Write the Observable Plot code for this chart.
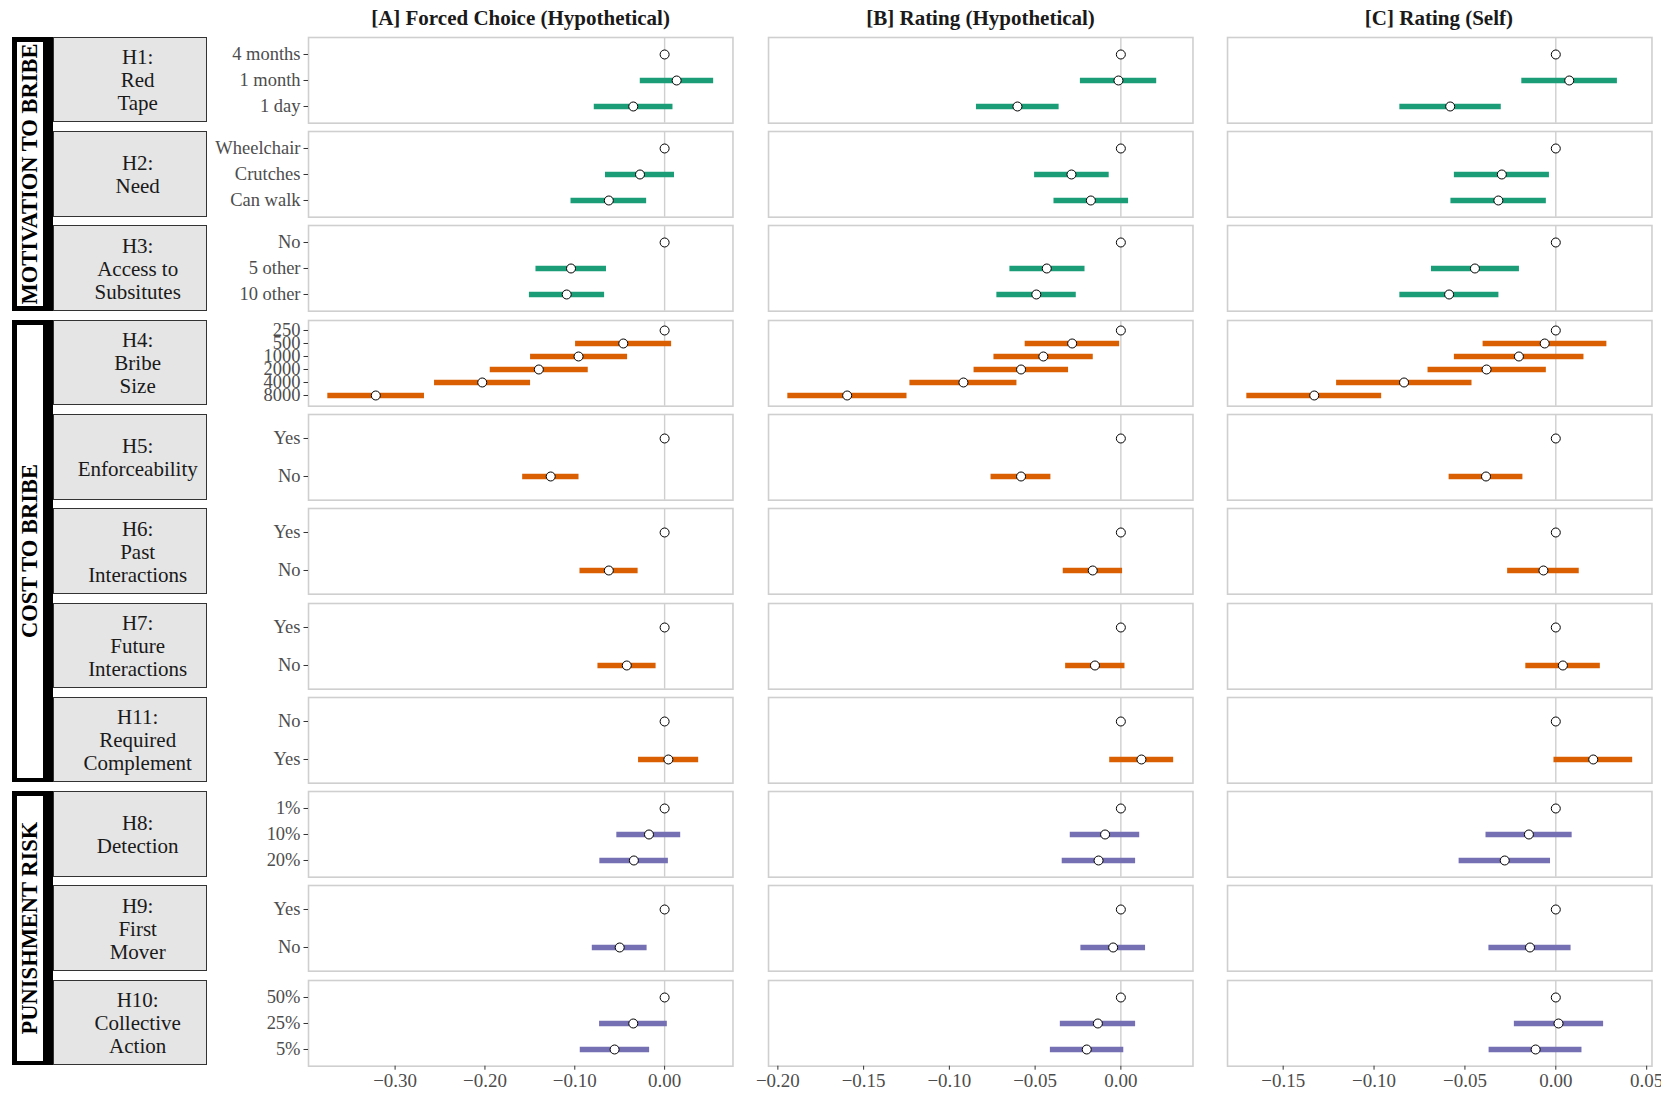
<!DOCTYPE html>
<html>
<head>
<meta charset="utf-8">
<script src="https://cdn.jsdelivr.net/npm/d3@7"></script>
<script src="https://cdn.jsdelivr.net/npm/@observablehq/plot@0.6"></script>
<style>
html, body { margin: 0; padding: 0; background: #fff; overflow: hidden; }
#root { position: relative; width: 1661px; height: 1093px; background: #fff;
  font-family: "Liberation Serif", "Times New Roman", serif; }
.title { position: absolute; font-weight: bold; font-size: 21px; line-height: 21px;
  color: #1a1a1a; text-align: center; white-space: nowrap; }
.hyp { position: absolute; background: #e5e5e5; border: 1.3px solid #333; box-sizing: border-box;
  display: flex; align-items: center; justify-content: center; text-align: center;
  font-size: 21px; line-height: 23px; color: #1a1a1a; white-space: pre; padding-left: 16px; padding-top: 2px; }
.grp { position: absolute; background: #000; }
.grp .inner { position: absolute; background: #fff; }
.grp .lab { position: absolute; left: 50%; top: 50%; transform: translate(-50%, -50%) rotate(-90deg);
  font-weight: bold; font-size: 22.5px; color: #000; white-space: nowrap; line-height: 1; }
svg.panel { position: absolute; }
</style>
</head>
<body>
<div id="root"></div>
<script>
// ---------------- DATA ----------------
const columnTitles = ["[A] Forced Choice (Hypothetical)", "[B] Rating (Hypothetical)", "[C] Rating (Self)"];

const hypLabels = ["H1:\nRed\nTape", "H2:\nNeed", "H3:\nAccess to\nSubsitutes", "H4:\nBribe\nSize",
  "H5:\nEnforceability", "H6:\nPast\nInteractions", "H7:\nFuture\nInteractions",
  "H11:\nRequired\nComplement", "H8:\nDetection", "H9:\nFirst\nMover", "H10:\nCollective\nAction"];

const rowLevels = [
  ["4 months", "1 month", "1 day"],
  ["Wheelchair", "Crutches", "Can walk"],
  ["No", "5 other", "10 other"],
  ["250", "500", "1000", "2000", "4000", "8000"],
  ["Yes", "No"],
  ["Yes", "No"],
  ["Yes", "No"],
  ["No", "Yes"],
  ["1%", "10%", "20%"],
  ["Yes", "No"],
  ["50%", "25%", "5%"]
];

const rowGroup = [0, 0, 0, 1, 1, 1, 1, 1, 2, 2, 2];
const groupNames = ["MOTIVATION TO BRIBE", "COST TO BRIBE", "PUNISHMENT RISK"];
const groupColors = ["#1B9E77", "#D95F02", "#7570B3"];

const xTicks = [
  [-0.3, -0.2, -0.1, 0],
  [-0.2, -0.15, -0.1, -0.05, 0],
  [-0.15, -0.1, -0.05, 0, 0.05]
];

// [A] Forced Choice (Hypothetical)
const estA = [
  [0, 0.0134, -0.0349], [0, -0.0274, -0.0621], [0, -0.1042, -0.109],
  [0, -0.046, -0.0958, -0.14, -0.203, -0.3215],
  [0, -0.1268], [0, -0.0621], [0, -0.0421], [0, 0.0042],
  [0, -0.0174, -0.0342], [0, -0.05], [0, -0.0349, -0.0557]
];
const loA = [
  [null, -0.0271, -0.0783], [null, -0.0658, -0.1042], [null, -0.1432, -0.1505],
  [null, -0.0991, -0.1492, -0.1941, -0.2561, -0.3749],
  [null, -0.158], [null, -0.0942], [null, -0.0742], [null, -0.029],
  [null, -0.0532, -0.0721], [null, -0.0805], [null, -0.0724, -0.0939]
];
const hiA = [
  [null, 0.0546, 0.0093], [null, 0.011, -0.02], [null, -0.0647, -0.0668],
  [null, 0.0078, -0.0412, -0.085, -0.1492, -0.2673],
  [null, -0.0953], [null, -0.0295], [null, -0.0095], [null, 0.0379],
  [null, 0.0179, 0.0042], [null, -0.0195], [null, 0.003, -0.0167]
];

// [B] Rating (Hypothetical)
const estB = [
  [0, -0.0014, -0.0603], [0, -0.0288, -0.0175], [0, -0.0432, -0.0493],
  [0, -0.0284, -0.0452, -0.0582, -0.0918, -0.1596],
  [0, -0.0582], [0, -0.0164], [0, -0.0151], [0, 0.012],
  [0, -0.0092, -0.013], [0, -0.0045], [0, -0.0134, -0.0199]
];
const loB = [
  [null, -0.0236, -0.0842], [null, -0.0503, -0.039], [null, -0.0647, -0.0723],
  [null, -0.0558, -0.074, -0.0856, -0.123, -0.1942],
  [null, -0.0757], [null, -0.0336], [null, -0.0322], [null, -0.0065],
  [null, -0.0295, -0.0342], [null, -0.0233], [null, -0.0353, -0.0411]
];
const hiB = [
  [null, 0.0209, -0.036], [null, -0.0068, 0.0045], [null, -0.0209, -0.026],
  [null, -0.0007, -0.0161, -0.0305, -0.0606, -0.1247],
  [null, -0.0408], [null, 0.001], [null, 0.0024], [null, 0.0308],
  [null, 0.011, 0.0086], [null, 0.0144], [null, 0.0086, 0.0017]
];

// [C] Rating (Self)
const estC = [
  [0, 0.0074, -0.0581], [0, -0.0297, -0.0316], [0, -0.0445, -0.0587],
  [0, -0.0061, -0.0203, -0.0381, -0.0835, -0.1329],
  [0, -0.0384], [0, -0.0068], [0, 0.0039], [0, 0.0206],
  [0, -0.0148, -0.0281], [0, -0.0142], [0, 0.0015, -0.0111]
];
const loC = [
  [null, -0.0187, -0.0858], [null, -0.0558, -0.0577], [null, -0.0684, -0.0858],
  [null, -0.04, -0.0558, -0.0703, -0.1206, -0.17],
  [null, -0.0587], [null, -0.0265], [null, -0.0165], [null, -0.001],
  [null, -0.0384, -0.0532], [null, -0.0368], [null, -0.0228, -0.0367]
];
const hiC = [
  [null, 0.0339, -0.03], [null, -0.0035, -0.0052], [null, -0.02, -0.0313],
  [null, 0.0281, 0.0155, -0.0052, -0.0461, -0.0958],
  [null, -0.0181], [null, 0.0129], [null, 0.0245], [null, 0.0423],
  [null, 0.009, -0.0029], [null, 0.0084], [null, 0.0263, 0.0144]
];

// ---------------- LAYOUT ----------------
const columns = [
  {est: estA, lo: loA, hi: hiA},
  {est: estB, lo: loB, hi: hiB},
  {est: estC, lo: loC, hi: hiC}
];
const panelLeft = [308.3, 768.3, 1226.7];
const panelWidth = 424.5;
const rowTop0 = 36.7, rowPitch = 94.3, panelHeight = 85.7;

const root = document.getElementById("root");
const fmt = d3.format(".2f");

// column titles
columnTitles.forEach((t, c) => {
  const d = document.createElement("div");
  d.className = "title";
  d.style.left = panelLeft[c] + "px";
  d.style.width = panelWidth + "px";
  d.style.top = "7.5px";
  d.textContent = t;
  root.appendChild(d);
});

// group strips
groupNames.forEach((name, g) => {
  const rows = rowGroup.map((v, i) => v === g ? i : -1).filter(i => i >= 0);
  const top = rowTop0 + rows[0] * rowPitch;
  const bottom = rowTop0 + rows[rows.length - 1] * rowPitch + panelHeight;
  const d = document.createElement("div");
  d.className = "grp";
  d.style.left = "12.3px"; d.style.width = "40.6px";
  d.style.top = top + "px"; d.style.height = (bottom - top) + "px";
  const inner = document.createElement("div");
  inner.className = "inner";
  inner.style.left = "4.5px"; inner.style.right = "9.5px";
  inner.style.top = "5px"; inner.style.bottom = "4.5px";
  const lab = document.createElement("div");
  lab.className = "lab";
  lab.textContent = name;
  inner.appendChild(lab);
  d.appendChild(inner);
  root.appendChild(d);
});

// hypothesis strips
hypLabels.forEach((t, r) => {
  const d = document.createElement("div");
  d.className = "hyp";
  d.style.left = "52.7px"; d.style.width = "154px";
  d.style.top = (rowTop0 + r * rowPitch) + "px";
  d.style.height = panelHeight + "px";
  d.textContent = t;
  root.appendChild(d);
});

// panels
columns.forEach((col, c) => {
  const los = col.lo.flat().filter(v => v != null).concat(col.est.flat());
  const his = col.hi.flat().filter(v => v != null).concat(col.est.flat());
  const mn = d3.min(los), mx = d3.max(his);
  const pad = 0.05 * (mx - mn);
  const domain = [mn - pad, mx + pad];

  rowLevels.forEach((levels, r) => {
    const rows = levels.map((lev, i) => ({
      level: lev, est: col.est[r][i], lo: col.lo[r][i], hi: col.hi[r][i]
    }));
    const bars = rows.filter(d => d.lo != null);
    const color = groupColors[rowGroup[r]];
    const isA = c === 0, isLast = r === rowLevels.length - 1;
    const ml = isA ? 130 : 0;
    const mb = isLast ? 30 : 0;
    const svg = Plot.plot({
      width: panelWidth + ml,
      height: panelHeight + mb,
      marginLeft: ml, marginRight: 0, marginTop: 0, marginBottom: mb,
      x: {domain, axis: null, label: null},
      y: {type: "point", domain: levels, padding: 0.6, axis: null, label: null},
      style: {fontFamily: "'Liberation Serif', 'Times New Roman', serif", background: "transparent",
              overflow: "visible", color: "#4d4d4d"},
      marks: [
        Plot.ruleX([0], {stroke: "#cfcfcf", strokeWidth: 1.4}),
        Plot.frame({stroke: "#cfcfcf", strokeWidth: 1.6}),
        Plot.ruleY(bars, {y: "level", x1: "lo", x2: "hi", stroke: color, strokeWidth: 5.5}),
        Plot.dot(rows, {x: "est", y: "level", r: 4.5, fill: "white", stroke: "black", strokeWidth: 1}),
        isA ? Plot.axisY({label: null, tickSize: 4.5, tickPadding: 3.5, fontSize: 18.5, stroke: "#333", fill: "#4d4d4d"}) : null,
        isLast ? Plot.axisX({label: null, ticks: xTicks[c], tickFormat: fmt, tickSize: 4, tickPadding: 3.5,
                             fontSize: 19, stroke: "#333", fill: "#4d4d4d"}) : null
      ]
    });
    svg.classList.add("panel");
    svg.style.left = (panelLeft[c] - ml) + "px";
    svg.style.top = (rowTop0 + r * rowPitch) + "px";
    svg.style.maxWidth = "none";
    root.appendChild(svg);
  });
});
</script>
</body>
</html>
